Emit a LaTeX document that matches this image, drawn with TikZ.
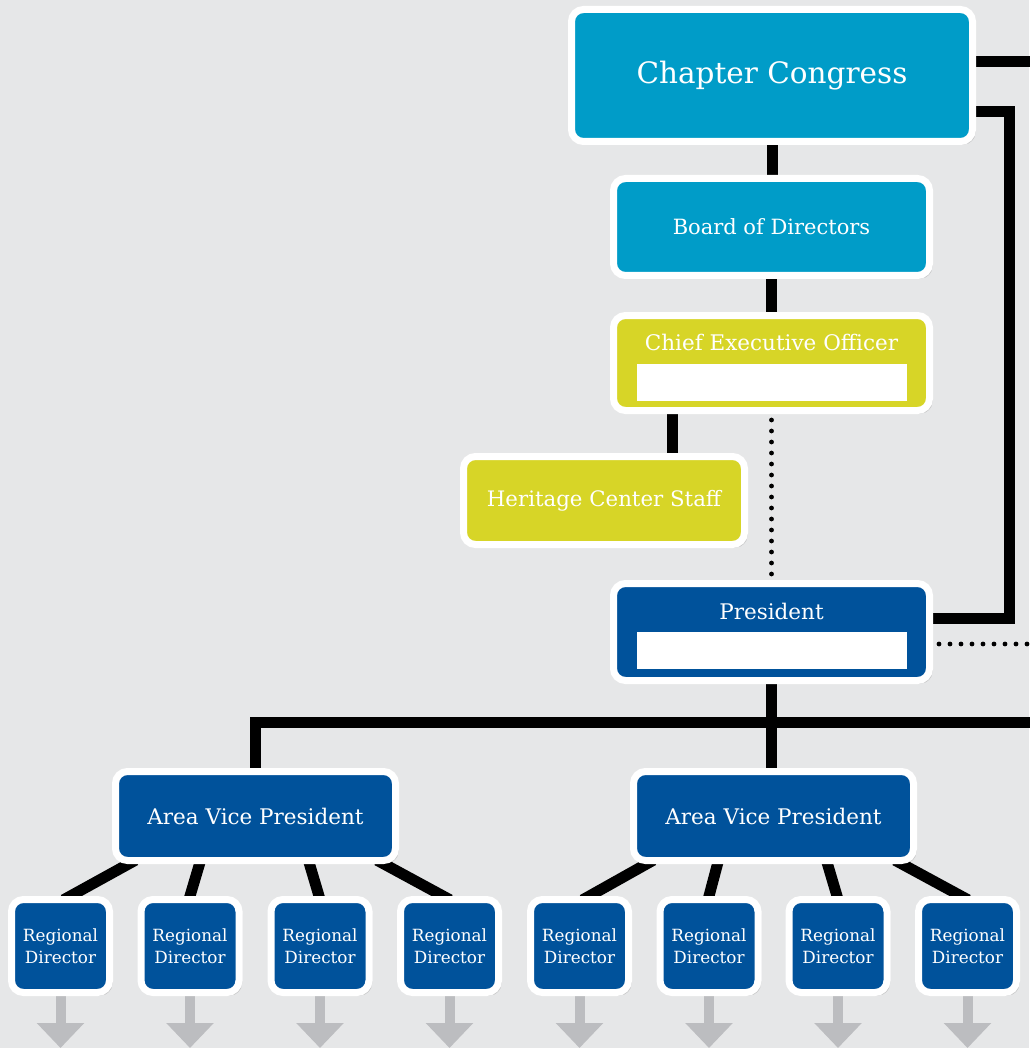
\documentclass[tikz,border=0pt]{standalone}
\usepackage{fontspec}
\setmainfont{DejaVu Serif}
\usetikzlibrary{shadows,calc,arrows.meta}
\definecolor{bggray}{HTML}{E6E7E8}
\definecolor{cyanbox}{HTML}{009CC8}
\definecolor{limebox}{HTML}{D7D527}
\definecolor{navybox}{HTML}{00529B}
\definecolor{arrowgray}{HTML}{BCBDC0}
\pgfdeclarelayer{back}
\pgfdeclarelayer{lines}
\pgfsetlayers{back,lines,main}
\tikzset{
  orgbox/.style={draw=white, line width=7pt, rounded corners=12pt, inner sep=0pt,
    text=white, align=center,
    drop shadow={shadow xshift=3pt, shadow yshift=-3pt, opacity=0.15, fill=black}},
  conn/.style={draw=black, line width=11pt, line cap=butt, line join=miter},
  dotconn/.style={draw=black, line width=4.8pt, line cap=round, dash pattern=on 0pt off 11pt},
  graydown/.style={draw=arrowgray, line width=10pt, -{Triangle[width=46pt,length=25pt]}},
  whitebar/.style={fill=white, inner sep=0pt, minimum width=270pt, minimum height=37pt},
  lbl/.style={text=white, inner sep=0pt, align=center},
  midfont/.style={font=\fontsize{21.5}{26}\selectfont},
  rdbox/.style={orgbox, fill=navybox, minimum width=98pt, minimum height=93pt, font=\fontsize{16.8}{22}\selectfont}
}
\begin{document}
\begin{tikzpicture}[x=1pt,y=-1pt]
\useasboundingbox (0,0) rectangle (1029,1048);
\begin{pgfonlayer}{back}
\fill[bggray] (0,0) rectangle (1029,1048);
\end{pgfonlayer}

% boxes
\node[orgbox, fill=cyanbox, minimum width=401pt, minimum height=132pt, font=\fontsize{29.5}{34}\selectfont] (cc) at (772,75.5) {Chapter Congress};
\node[orgbox, fill=cyanbox, minimum width=316pt, minimum height=97pt, font=\fontsize{21}{26}\selectfont] (bod) at (771.5,227) {Board of Directors};
\node[orgbox, fill=limebox, minimum width=316pt, minimum height=95pt] (ceo) at (771.5,363) {};
\node[lbl, midfont] (ceotxt) at (771.5,342) {Chief Executive Officer};
\node[whitebar] (ceobar) at (772,382.5) {};
\node[orgbox, fill=limebox, minimum width=281pt, minimum height=88pt, font=\fontsize{21.3}{26}\selectfont] (her) at (604,500.5) {Heritage Center Staff};
\node[orgbox, fill=navybox, minimum width=316pt, minimum height=97pt] (pres) at (771.5,632) {};
\node[lbl, midfont] (prestxt) at (771.5,611) {President};
\node[whitebar] (presbar) at (772,650.5) {};
\node[orgbox, fill=navybox, minimum width=280pt, minimum height=89pt, midfont] (avpL) at (255.5,816) {Area Vice President};
\node[orgbox, fill=navybox, minimum width=280pt, minimum height=89pt, midfont] (avpR) at (773.5,816) {Area Vice President};

\foreach \i/\x in {1/60.5,2/190,3/320,4/449.5,5/579.5,6/709,7/838,8/967.5}{
  \node[rdbox] (rd\i) at (\x,946) {Regional\\Director};
}

\coordinate (hx) at (672,0);
\coordinate (p1) at (1009,618);
\coordinate (p2) at (1009,112);
\coordinate (ccout) at (1035,62);
\coordinate (presout) at (1029,644);
\coordinate (hr) at (1035,722);

\begin{pgfonlayer}{lines}
\draw[conn] (cc.south) -- (cc.south |- bod.north);
\draw[conn] (bod.south) -- (bod.south |- ceo.north);
\draw[conn] (ceo.south -| hx) -- (her.north -| hx);
\draw[dotconn] ([yshift=-6pt]ceo.south) -- ([yshift=4pt]ceo.south |- pres.north);
\draw[conn] (pres.east |- p1) -- (p1) -- (p2) -- (cc.east |- p2);
\draw[conn] (cc.east |- ccout) -- (ccout);
\draw[dotconn] ([xshift=6pt]pres.east |- presout) -- (presout);
\draw[conn] (pres.south) -- (pres.south |- avpR.north);
\draw[conn] (avpL.north) -- (avpL.north |- hr) -- (hr);
% AVP to regional directors
\foreach \a/\r/\t/\b in {avpL/rd1/-127/10, avpL/rd2/-56/0, avpL/rd3/54/-1, avpL/rd4/128.5/-6.5,
                         avpR/rd5/-127/10, avpR/rd6/-56/0, avpR/rd7/54/-1, avpR/rd8/128.5/-6.5}{
  \draw[conn, shorten <=-8pt, shorten >=-8pt] ($(\a.south)+(\t,0)$) -- ($(\r.north)+(\b,0)$);
}
\foreach \i in {1,...,8}{
  \draw[graydown] (rd\i.south) -- ++(0,52);
}
\end{pgfonlayer}
\end{tikzpicture}
\end{document}
